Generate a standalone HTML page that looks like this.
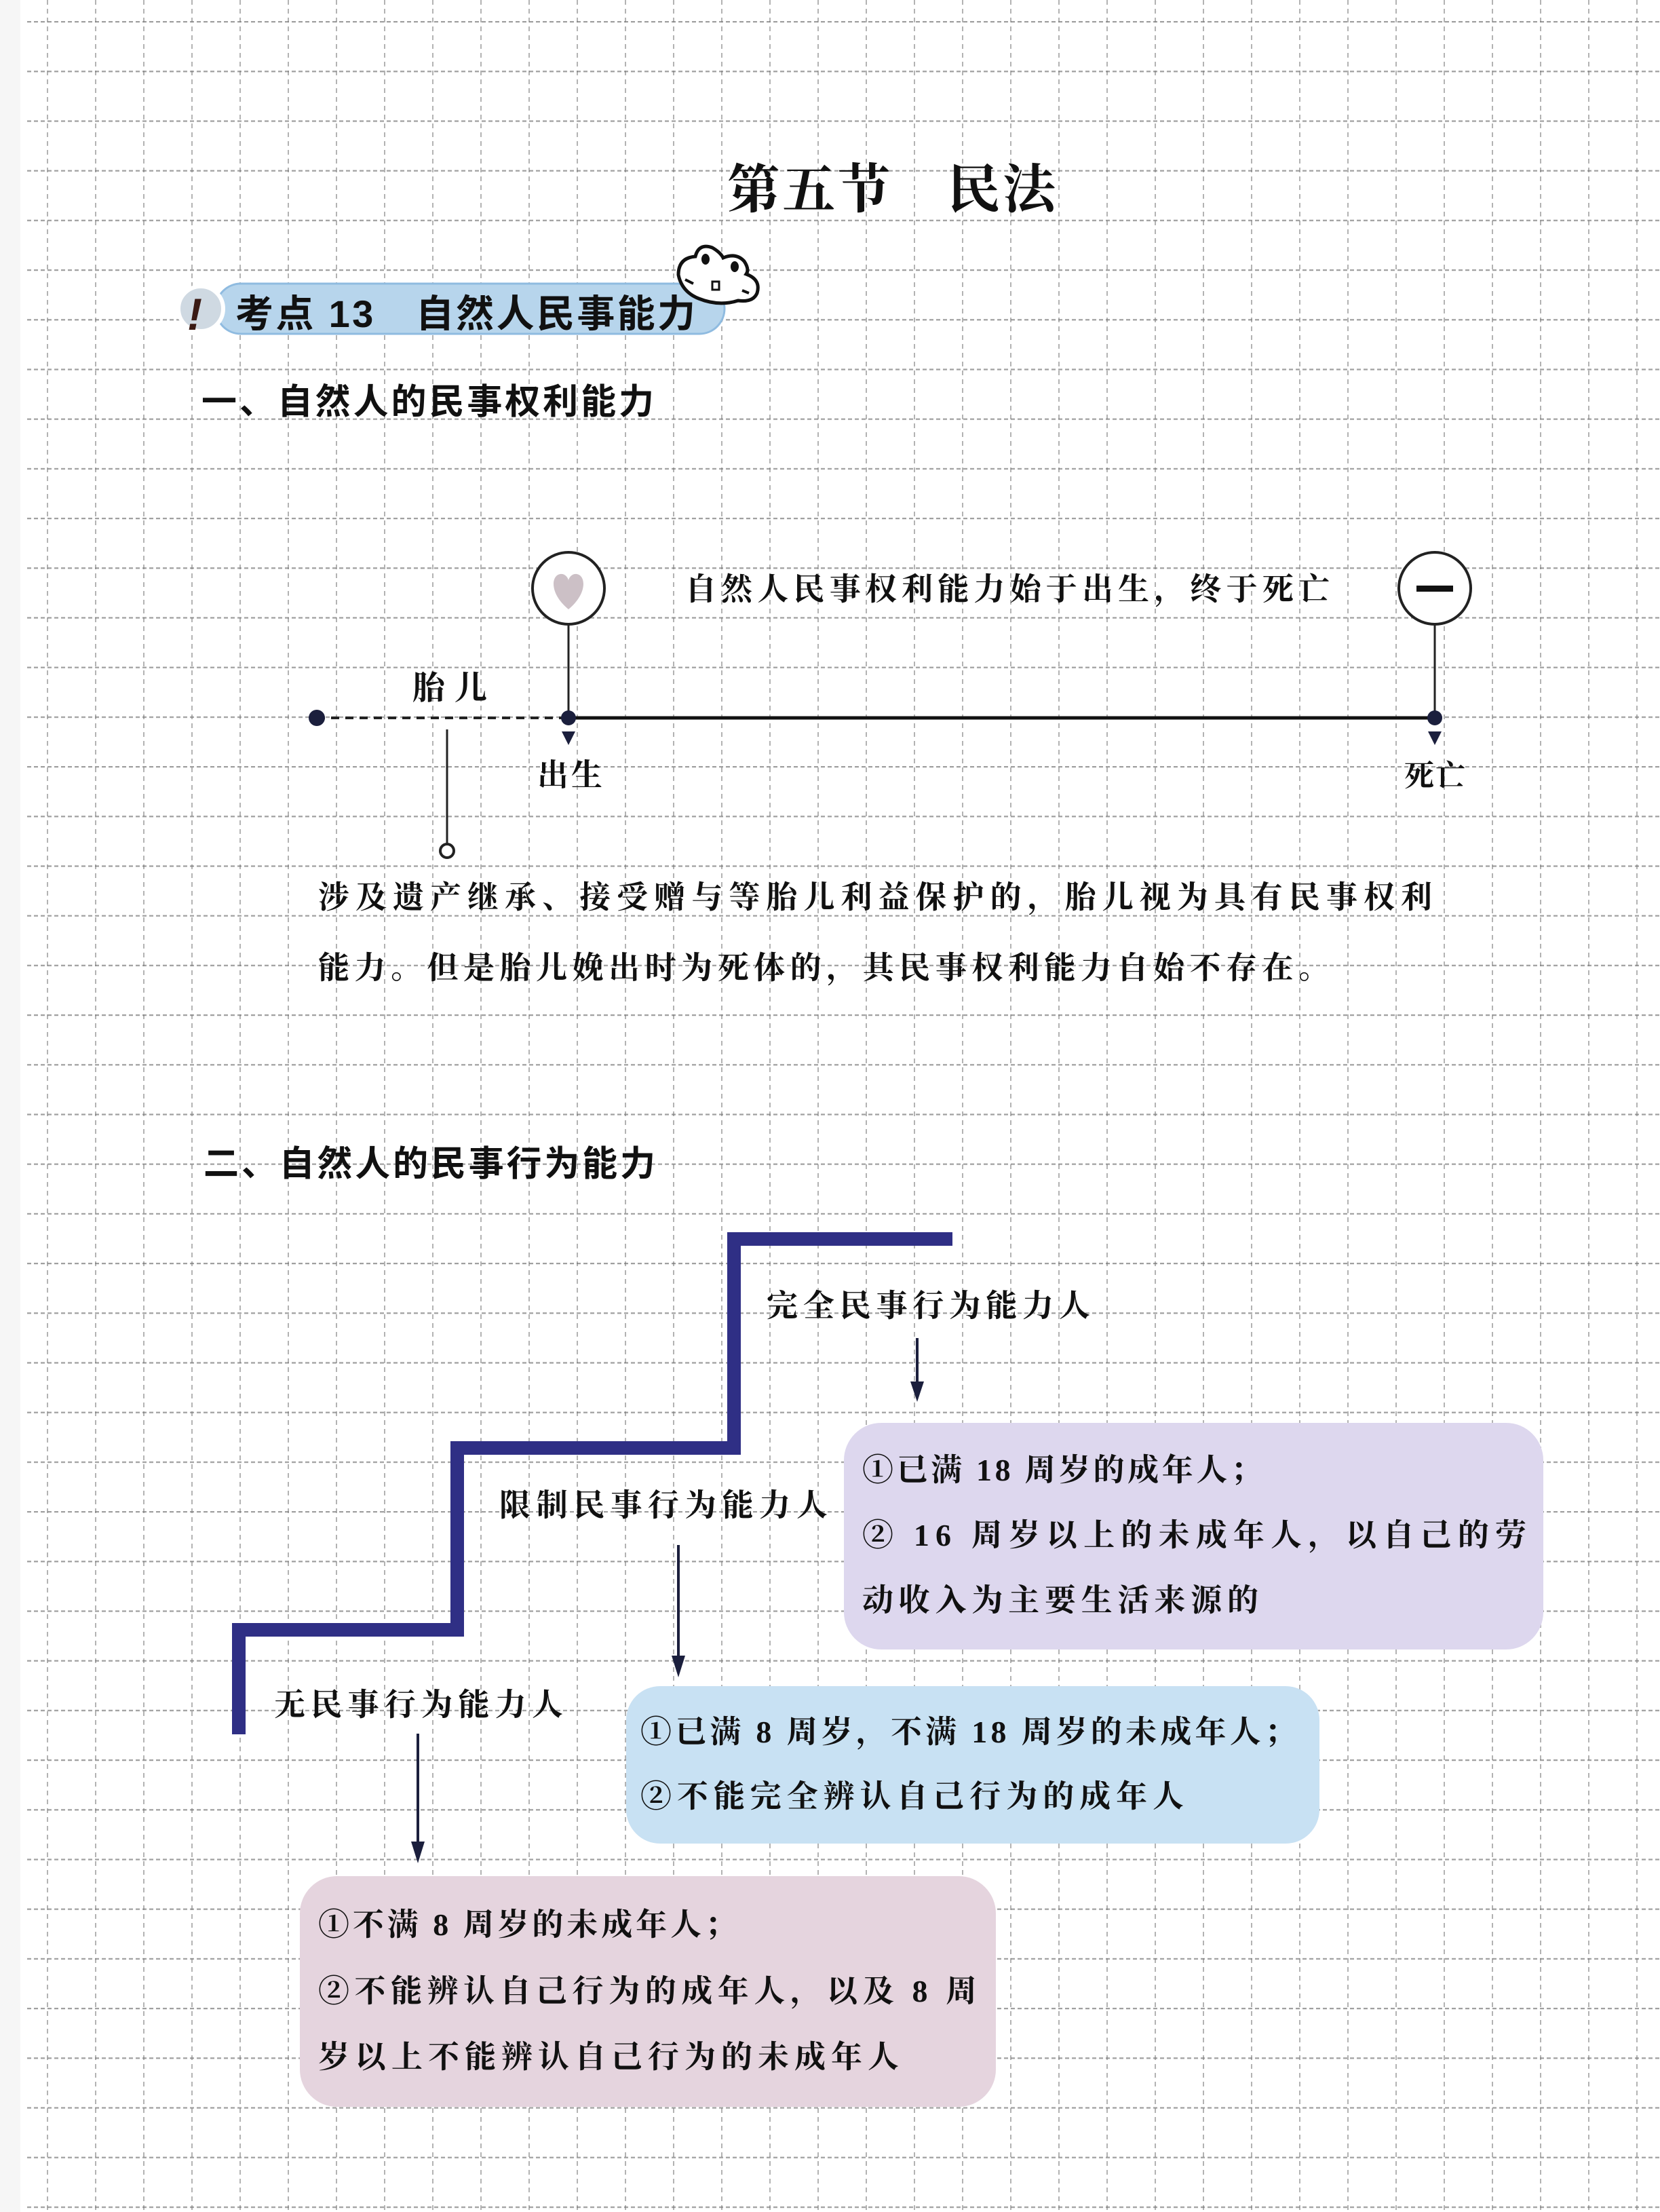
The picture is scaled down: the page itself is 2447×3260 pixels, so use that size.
<!DOCTYPE html>
<html><head><meta charset="utf-8"><style>
html,body{margin:0;padding:0;background:#fff;}
svg{display:block;}
.h{font-family:"Liberation Sans","Noto Sans CJK SC",sans-serif;font-weight:bold;fill:#111;}
.w{font-family:"Liberation Serif","Noto Serif CJK SC",serif;fill:#111;font-weight:bold;}
</style></head><body>
<svg width="2447" height="3260" viewBox="0 0 2447 3260" xmlns="http://www.w3.org/2000/svg">
<defs>
<pattern id="gh" x="0" y="31" width="2447" height="73.2" patternUnits="userSpaceOnUse">
<line x1="0" y1="1" x2="2447" y2="1" stroke="#777" stroke-width="2.5" stroke-dasharray="6 4"/>
</pattern>
<pattern id="gv" x="69" y="0" width="71" height="3260" patternUnits="userSpaceOnUse">
<line x1="1" y1="0" x2="1" y2="3260" stroke="#999" stroke-width="2" stroke-dasharray="7 6"/>
</pattern>
</defs>
<rect width="2447" height="3260" fill="#fff"/>
<rect x="40" y="0" width="2407" height="3260" fill="url(#gv)" opacity="0.75"/>
<rect x="40" y="0" width="2407" height="3260" fill="url(#gh)" opacity="0.7"/>
<rect x="0" y="0" width="30" height="3260" fill="#f6f6f6"/>

<!-- Title -->
<text class="w" x="1072" y="306" font-size="78" textLength="484" lengthAdjust="spacing">第五节　民法</text>

<!-- Banner -->
<rect x="318" y="418" width="750" height="74" rx="37" fill="#b7d5ec"/>
<rect x="318" y="418" width="750" height="74" rx="37" fill="none" stroke="#8fbbe0" stroke-width="3"/>
<circle cx="296" cy="455" r="33" fill="#cfd9e2" stroke="#fff" stroke-width="6"/>
<text x="276" y="486" font-family="Liberation Sans,sans-serif" font-weight="bold" font-style="italic" font-size="66" fill="#3a1a14">!</text>
<text class="h" x="347" y="482" font-size="56" textLength="678" lengthAdjust="spacing">考点 13　自然人民事能力</text>
<!-- frog -->
<path d="M1000 405 Q1000 380 1025 378 Q1030 358 1050 365 Q1062 372 1066 380 Q1085 372 1097 385 Q1105 397 1100 404 Q1122 412 1116 432 Q1110 446 1088 443 Q1060 452 1030 440 Q1005 430 1000 405 Z" fill="#fff" stroke="#111" stroke-width="5"/>
<ellipse cx="1040" cy="382" rx="6" ry="8" fill="#111"/><ellipse cx="1083" cy="393" rx="6" ry="8" fill="#111"/>
<path d="M1010 412 L1022 418 M1094 428 L1104 432" stroke="#111" stroke-width="4"/>
<rect x="1050" y="415" width="10" height="12" fill="none" stroke="#111" stroke-width="3"/>

<!-- Heading 1 -->
<text class="h" x="297" y="610" font-size="52" textLength="667" lengthAdjust="spacing">一、自然人的民事权利能力</text>

<!-- Timeline -->
<circle cx="838" cy="867" r="53" fill="#fff" stroke="#222" stroke-width="4"/>
<path d="M838 898 C810 875 812 848 826 846 C833 845 838 852 838 856 C838 852 843 845 850 846 C864 848 866 875 838 898 Z" fill="#ccc0c6"/>
<circle cx="2115" cy="867" r="53" fill="#fff" stroke="#222" stroke-width="4"/>
<rect x="2088" y="863" width="54" height="9" fill="#111"/>
<text class="w" x="1010" y="884" font-size="46" textLength="950" lengthAdjust="spacing">自然人民事权利能力始于出生，终于死亡</text>
<line x1="838" y1="920" x2="838" y2="1058" stroke="#222" stroke-width="3"/>
<line x1="2115" y1="920" x2="2115" y2="1058" stroke="#222" stroke-width="3"/>
<line x1="467" y1="1058" x2="838" y2="1058" stroke="#222" stroke-width="4" stroke-dasharray="12 9"/>
<line x1="838" y1="1058" x2="2115" y2="1058" stroke="#111" stroke-width="5"/>
<circle cx="467" cy="1058" r="12" fill="#1b1f3d"/>
<circle cx="838" cy="1058" r="11" fill="#1b1f3d"/>
<circle cx="2115" cy="1058" r="11" fill="#1b1f3d"/>
<polygon points="828,1078 848,1078 838,1098" fill="#1b1f3d"/>
<polygon points="2105,1078 2125,1078 2115,1098" fill="#1b1f3d"/>
<text class="w" x="608" y="1030" font-size="48" textLength="110" lengthAdjust="spacing">胎儿</text>
<text class="w" x="792" y="1158" font-size="46" textLength="96" lengthAdjust="spacing">出生</text>
<text class="w" x="2070" y="1158" font-size="44" textLength="90" lengthAdjust="spacing">死亡</text>
<line x1="659" y1="1075" x2="659" y2="1243" stroke="#222" stroke-width="3"/>
<circle cx="659" cy="1254" r="10" fill="#fff" stroke="#222" stroke-width="4"/>
<text class="w" x="469" y="1338" font-size="46" textLength="1642" lengthAdjust="spacing">涉及遗产继承、接受赠与等胎儿利益保护的，胎儿视为具有民事权利</text>
<text class="w" x="469" y="1442" font-size="46" textLength="1491" lengthAdjust="spacing">能力。但是胎儿娩出时为死体的，其民事权利能力自始不存在。</text>

<!-- Heading 2 -->
<text class="h" x="300" y="1733" font-size="52" textLength="666" lengthAdjust="spacing">二、自然人的民事行为能力</text>

<!-- Staircase -->
<path d="M352 2556 L352 2402 L674 2402 L674 2134 L1082 2134 L1082 1826 L1404 1826" fill="none" stroke="#2f2f85" stroke-width="20" stroke-linejoin="miter"/>

<text class="w" x="1130" y="1940" font-size="46" textLength="477" lengthAdjust="spacing">完全民事行为能力人</text>
<line x1="1352" y1="1972" x2="1352" y2="2040" stroke="#1b1f3d" stroke-width="4"/>
<polygon points="1342,2036 1362,2036 1352,2066" fill="#1b1f3d"/>
<text class="w" x="736" y="2234" font-size="46" textLength="484" lengthAdjust="spacing">限制民事行为能力人</text>
<line x1="1000" y1="2277" x2="1000" y2="2445" stroke="#1b1f3d" stroke-width="4"/>
<polygon points="990,2440 1010,2440 1000,2472" fill="#1b1f3d"/>
<text class="w" x="404" y="2528" font-size="46" textLength="426" lengthAdjust="spacing">无民事行为能力人</text>
<line x1="616" y1="2555" x2="616" y2="2718" stroke="#1b1f3d" stroke-width="4"/>
<polygon points="606,2714 626,2714 616,2746" fill="#1b1f3d"/>

<!-- Boxes -->
<rect x="1244" y="2097" width="1031" height="334" rx="55" fill="#ddd7ee"/>
<text class="w" x="1271" y="2182" font-size="46" textLength="589" lengthAdjust="spacing">①已满 18 周岁的成年人；</text>
<text class="w" x="1271" y="2278" font-size="46" textLength="979" lengthAdjust="spacing">② 16 周岁以上的未成年人，以自己的劳</text>
<text class="w" x="1271" y="2374" font-size="46" textLength="584" lengthAdjust="spacing">动收入为主要生活来源的</text>

<rect x="923" y="2485" width="1022" height="232" rx="50" fill="#c8e1f3"/>
<text class="w" x="944" y="2568" font-size="46" textLength="966" lengthAdjust="spacing">①已满 8 周岁，不满 18 周岁的未成年人；</text>
<text class="w" x="944" y="2663" font-size="46" textLength="801" lengthAdjust="spacing">②不能完全辨认自己行为的成年人</text>

<rect x="442" y="2765" width="1026" height="340" rx="55" fill="#e5d4de"/>
<text class="w" x="469" y="2852" font-size="46" textLength="616" lengthAdjust="spacing">①不满 8 周岁的未成年人；</text>
<text class="w" x="469" y="2950" font-size="46" textLength="971" lengthAdjust="spacing">②不能辨认自己行为的成年人，以及 8 周</text>
<text class="w" x="469" y="3047" font-size="46" textLength="856" lengthAdjust="spacing">岁以上不能辨认自己行为的未成年人</text>
</svg>
</body></html>
